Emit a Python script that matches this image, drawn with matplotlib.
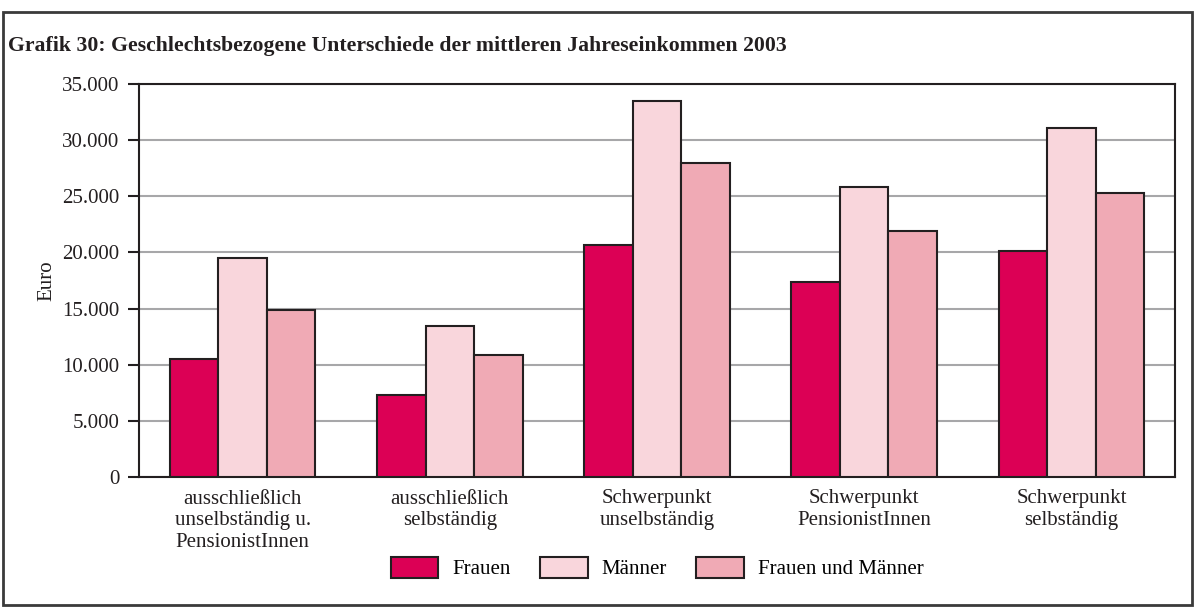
import matplotlib.pyplot as plt
import numpy as np
from matplotlib.patches import Rectangle

plt.rcParams['font.family'] = ['Liberation Serif', 'DejaVu Serif']

# categories and values (Euro)
categories = [
    "ausschließlich\nunselbständig u.\nPensionistInnen",
    "ausschließlich\nselbständig",
    "Schwerpunkt\nunselbständig",
    "Schwerpunkt\nPensionistInnen",
    "Schwerpunkt\nselbständig",
]
frauen = [10500, 7300, 20700, 17400, 20100]
maenner = [19500, 13450, 33500, 25800, 31100]
gesamt = [14900, 10900, 28000, 21900, 25300]

series_names = ["Frauen", "Männer", "Frauen und Männer"]
colors = ["#dc0055", "#f9d6dc", "#f0aab5"]
edge = "#231f20"
fs = 15

fig = plt.figure(figsize=(11.95, 6.07), dpi=100)
ax = fig.add_axes([139/1195, 1-477/607, (1175-139)/1195, (477-84)/607])

x = np.arange(len(categories))
w = 0.234
for i, (vals, name, c) in enumerate(zip([frauen, maenner, gesamt], series_names, colors)):
    ax.bar(x + (i-1)*w, vals, width=w, color=c, edgecolor=edge,
           linewidth=1.5, label=name, zorder=3)

ax.set_xlim(-0.5, len(categories)-0.5)
ax.set_ylim(0, 35000)
ax.set_yticks(range(0, 35001, 5000))
ax.set_yticklabels(["0"] + [f"{v//1000}.000" for v in range(5000, 35001, 5000)],
                   fontsize=fs, color="#231f20")
ax.set_xticks(x)
ax.set_xticklabels(categories, fontsize=fs, color="#231f20", linespacing=1.2)
ax.tick_params(axis='x', length=0, pad=9)
ax.tick_params(axis='y', length=8, width=1.5, color=edge, pad=6)
ax.set_ylabel("Euro", fontsize=fs, color="#231f20", labelpad=4)
ax.yaxis.grid(True, color="#a7a7a9", linewidth=1.5, zorder=0)
for s in ax.spines.values():
    s.set_color(edge)
    s.set_linewidth(1.5)

fig.legend(loc='center', bbox_to_anchor=(0.55, 0.064), ncol=3, frameon=False,
           fontsize=fs, handlelength=2.3, handleheight=1.15,
           handletextpad=0.67, columnspacing=1.4)

fig.text(8/1195, 1-46/607, "Grafik 30: Geschlechtsbezogene Unterschiede der mittleren Jahreseinkommen 2003",
         fontsize=15.7, fontweight='bold', color="#231f20", va='center', ha='left')

fig.patches.append(Rectangle((3/1195, 2/607), 1189/1195, 1-14/607,
                             transform=fig.transFigure, fill=False,
                             edgecolor="#3a3a3a", linewidth=2))

fig.savefig("out.png", dpi=100)
